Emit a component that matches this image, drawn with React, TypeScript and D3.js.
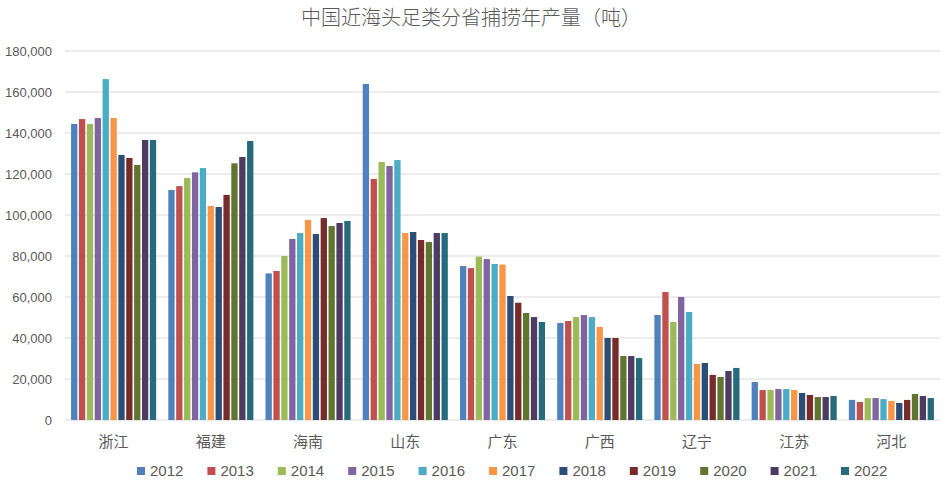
import React from "react";
import * as d3 from "d3";

const categories = ["浙江", "福建", "海南", "山东", "广东", "广西", "辽宁", "江苏", "河北"];
const years = ["2012", "2013", "2014", "2015", "2016", "2017", "2018", "2019", "2020", "2021", "2022"];

// values per province, in order of years (tonnes)
const v2012 = [144400, 112200, 71500, 163900, 75100, 47300, 51200, 18500, 9800];
const v2013 = [146800, 114100, 72700, 117600, 74100, 48300, 62400, 14600, 8800];
const v2014 = [144400, 118000, 80000, 125900, 79700, 50200, 47800, 14600, 10700];
const v2015 = [147300, 120800, 88300, 123900, 78500, 51200, 60000, 15100, 10700];
const v2016 = [166300, 122900, 91200, 126800, 76100, 50200, 52700, 15100, 10200];
const v2017 = [147300, 104400, 97600, 91200, 75800, 45400, 27300, 14600, 9300];
const v2018 = [129300, 103900, 90700, 91700, 60500, 40000, 27800, 13200, 8300];
const v2019 = [127800, 109800, 98500, 87800, 57200, 40000, 22000, 12200, 9800];
const v2020 = [124400, 125200, 94600, 86800, 52200, 31200, 21000, 11200, 12700];
const v2021 = [136600, 128300, 96100, 91200, 50200, 31200, 23900, 11200, 11700];
const v2022 = [136600, 136100, 97100, 91200, 47800, 30200, 25400, 11700, 10700];

const seriesValues = [v2012, v2013, v2014, v2015, v2016, v2017, v2018, v2019, v2020, v2021, v2022];
const colors = ["#4F81BD", "#C0504D", "#9BBB59", "#8064A2", "#4BACC6", "#F79646", "#2C4D75", "#772C2A", "#5F7530", "#4D3B62", "#276A7C"];
const yTicks = [0, 20000, 40000, 60000, 80000, 100000, 120000, 140000, 160000, 180000];

const title = "中国近海头足类分省捕捞年产量（吨）";

export default function App() {
  const W = 952, H = 494;
  const left = 65, right = 940, top = 51, bottom = 420;
  const x0 = d3.scaleBand<string>().domain(categories).range([left, right]).paddingInner(0.125).paddingOuter(0.0625);
  const x1 = d3.scaleBand<string>().domain(years).range([0, x0.bandwidth()]).paddingInner(0.2).paddingOuter(0);
  const y = d3.scaleLinear().domain([0, 180000]).range([bottom, top]);
  const fmt = d3.format(",");
  const textColor = "#595959";
  const font = "'Liberation Sans', Arial, sans-serif";
  const cjk = "'Noto Sans CJK SC', sans-serif";
  const legendX = d3.scaleLinear().domain([0, 10]).range([137, 841]);

  return (
    <svg width={W} height={H} style={{ position: "absolute", left: 0, top: 0, background: "#fff" }}>
      <rect width={W} height={H} fill="#fff" />
      <text x={471} y={25} textAnchor="middle" fontFamily={cjk} fontSize={20} fontWeight={300} fill={textColor}>{title}</text>
      {yTicks.map((t) => (
        <g key={t}>
          <line x1={left} x2={right} y1={y(t)} y2={y(t)} stroke="#D9D9D9" strokeWidth={1} />
          <text x={52} y={y(t)} dy="0.35em" textAnchor="end" fontFamily={font} fontSize={13} fill={textColor}>{fmt(t)}</text>
        </g>
      ))}
      {categories.map((c, ci) => (
        <g key={c} transform={`translate(${x0(c)},0)`}>
          {years.map((yr, si) => {
            const v = seriesValues[si][ci];
            return <rect key={yr} x={x1(yr)} y={y(v)} width={x1.bandwidth()} height={bottom - y(v)} fill={colors[si]} />;
          })}
          <text x={x0.bandwidth() / 2} y={442} dy="0.35em" textAnchor="middle" fontFamily={cjk} fontSize={15} fill={textColor}>{c}</text>
        </g>
      ))}
      {years.map((yr, si) => (
        <g key={yr} transform={`translate(${legendX(si)},471)`}>
          <rect x={0} y={-4} width={8} height={8} fill={colors[si]} />
          <text x={13} y={0} dy="0.35em" fontFamily={font} fontSize={15} fill={textColor}>{yr}</text>
        </g>
      ))}
    </svg>
  );
}
